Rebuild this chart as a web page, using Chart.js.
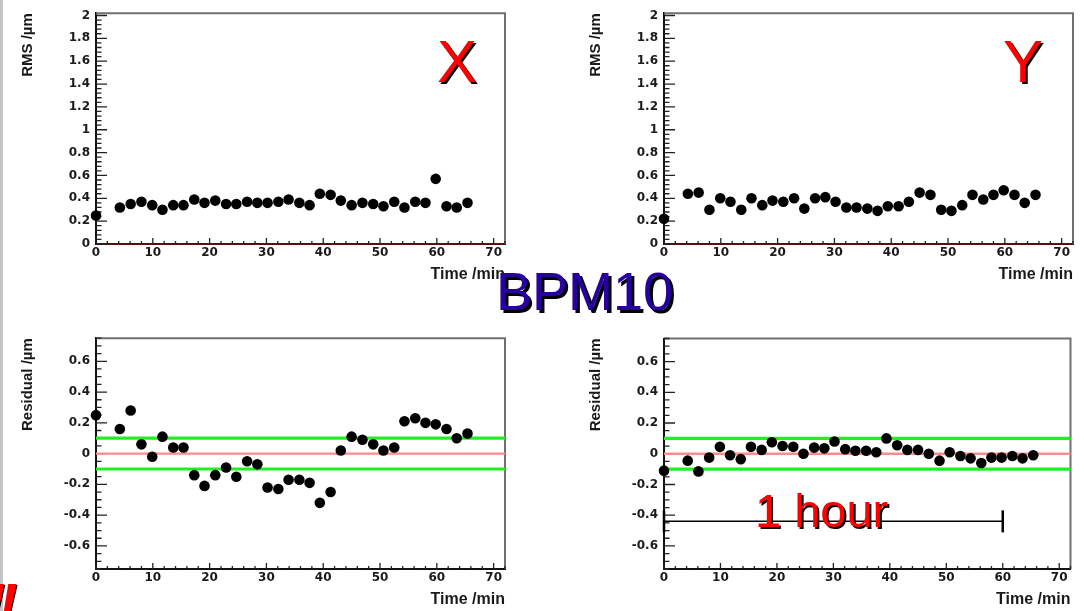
<!DOCTYPE html>
<html>
<head>
<meta charset="utf-8">
<script src="https://cdn.jsdelivr.net/npm/chart.js"></script>
<style>
  body { margin: 0; width: 1084px; height: 611px; overflow: hidden; background: #fff; position: relative; font-family: "Liberation Sans", Arial, sans-serif; }
  canvas { position: absolute; }
  .lbl { position: absolute; line-height: 1; white-space: nowrap; }
</style>
</head>
<body>
<div style="position:absolute;left:0;top:0;width:3px;height:611px;background:#c4c4c4"></div>
<canvas id="rmsXChart" width="516" height="286" style="left:0;top:0"></canvas>
<canvas id="rmsYChart" width="516" height="286" style="left:568px;top:0"></canvas>
<canvas id="resXChart" width="516" height="286" style="left:0;top:325px"></canvas>
<canvas id="resYChart" width="516" height="286" style="left:568px;top:325px"></canvas>

<div class="lbl" style="left:437px;top:32px;font-size:60px;color:#ff0000;text-shadow:2px 2px 0 #000">X</div>
<div class="lbl" style="left:1003px;top:32px;font-size:60px;color:#ff0000;text-shadow:2px 2px 0 #000">Y</div>
<div class="lbl" style="left:496px;top:264px;font-size:54px;color:#2800a0;text-shadow:3px 3px 0 #000">BPM10</div>
<div class="lbl" style="left:755px;top:487px;font-size:47px;color:#ff0000;text-shadow:2px 2px 0 #000">1 hour</div>
<div class="lbl" style="left:-14px;top:575px;font-size:58px;font-weight:bold;font-style:italic;letter-spacing:-7px;color:#ff0000;text-shadow:1px 1px 0 #000">!!</div>

<script>
// BPM10 stability over one hour: RMS and residual per plane

const timeMin = [0, 4.2, 6.1, 8.0, 9.9, 11.7, 13.6, 15.4, 17.3, 19.1, 21.0, 22.9, 24.7, 26.6, 28.4, 30.2, 32.1, 33.9,
  35.8, 37.6, 39.4, 41.3, 43.1, 45.0, 46.9, 48.8, 50.6, 52.5, 54.3, 56.2, 58.0, 59.8, 61.7, 63.5, 65.4];

const rmsX = [0.25, 0.32, 0.35, 0.37, 0.34, 0.30, 0.34, 0.34, 0.39, 0.36, 0.38, 0.35, 0.35, 0.37, 0.36, 0.36, 0.37, 0.39,
  0.36, 0.34, 0.44, 0.43, 0.38, 0.34, 0.36, 0.35, 0.33, 0.37, 0.32, 0.37, 0.36, 0.57, 0.33, 0.32, 0.36];

const rmsY = [0.22, 0.44, 0.45, 0.30, 0.40, 0.37, 0.30, 0.40, 0.34, 0.38, 0.37, 0.40, 0.31, 0.40, 0.41, 0.37, 0.32, 0.32,
  0.31, 0.29, 0.33, 0.33, 0.37, 0.45, 0.43, 0.30, 0.29, 0.34, 0.43, 0.39, 0.43, 0.47, 0.43, 0.36, 0.43];

const resX = [0.25, 0.16, 0.28, 0.06, -0.02, 0.11, 0.04, 0.04, -0.14, -0.21, -0.14, -0.09, -0.15, -0.05, -0.07, -0.22, -0.23, -0.17,
  -0.17, -0.19, -0.32, -0.25, 0.02, 0.11, 0.09, 0.06, 0.02, 0.04, 0.21, 0.23, 0.20, 0.19, 0.16, 0.10, 0.13];

const resY = [-0.11, -0.045, -0.115, -0.025, 0.045, -0.01, -0.035, 0.045, 0.025, 0.075, 0.05, 0.045, 0.0, 0.04, 0.035, 0.08, 0.03, 0.02,
  0.02, 0.01, 0.10, 0.055, 0.025, 0.025, 0.0, -0.045, 0.01, -0.015, -0.03, -0.06, -0.025, -0.025, -0.015, -0.03, -0.01];

const timeTicks = [0, 10, 20, 30, 40, 50, 60, 70];
const rmsTicks = [0, 0.2, 0.4, 0.6, 0.8, 1, 1.2, 1.4, 1.6, 1.8, 2];
const resTicks = [-0.6, -0.4, -0.2, 0, 0.2, 0.4, 0.6];

const timeRange = [0, 72];
const rmsRange = [0, 2.02];
const resRange = [-0.75, 0.75];

const bandLimits = [-0.1, 0.1];   // green tolerance lines
const zeroLevel = 0;              // red reference line
const hourSpan = [0, 60];         // "1 hour" bracket
const hourLevel = -0.44;

const TICK_FONT = 'DejaVu Sans, Verdana, sans-serif';
const TITLE_FONT = 'Liberation Sans, Arial, sans-serif';

// ROOT-like frame: grey top/right border and inward major/minor ticks
const rootFrame = {
  id: 'rootFrame',
  beforeDatasetsDraw(chart, args, opts) {
    const { ctx, chartArea: a, scales: { x, y } } = chart;
    ctx.save();
    ctx.strokeStyle = '#707070';
    ctx.lineWidth = 2;
    ctx.beginPath();
    ctx.moveTo(a.left, a.top);
    ctx.lineTo(a.right, a.top);
    ctx.lineTo(a.right, a.bottom);
    ctx.stroke();

    ctx.strokeStyle = '#222';
    ctx.lineWidth = 1.3;
    ctx.beginPath();
    const minor = (scale, step, fn) => {
      const n0 = Math.ceil(scale.min / step - 1e-6), n1 = Math.floor(scale.max / step + 1e-6);
      for (let i = n0; i <= n1; i++) fn(scale.getPixelForValue(i * step));
    };
    minor(y, opts.yMinor, py => { ctx.moveTo(a.left, py); ctx.lineTo(a.left + 5.5, py); });
    y.ticks.forEach(t => { const py = y.getPixelForValue(t.value); ctx.moveTo(a.left, py); ctx.lineTo(a.left + 11, py); });
    minor(x, opts.xMinor, px => { ctx.moveTo(px, a.bottom); ctx.lineTo(px, a.bottom - 3); });
    x.ticks.forEach(t => { const px = x.getPixelForValue(t.value); ctx.moveTo(px, a.bottom); ctx.lineTo(px, a.bottom - 6); });
    ctx.stroke();
    ctx.restore();
  }
};

function hLine(level, color, width) {
  return {
    type: 'line',
    data: [{ x: timeRange[0], y: level }, { x: timeRange[1], y: level }],
    borderColor: color,
    borderWidth: width,
    pointRadius: 0,
    showLine: true,
    clip: false,
    order: 2
  };
}

function renderPanel(id, values, yTicks, yRange, yTitle, extra, bottomColor) {
  const points = {
    type: 'scatter',
    data: timeMin.map((t, i) => ({ x: t, y: values[i] })),
    backgroundColor: '#000',
    borderColor: '#000',
    borderWidth: 0,
    pointRadius: 5.3,
    pointHoverRadius: 5.3,
    clip: false,
    order: 0
  };

  new Chart(document.getElementById(id), {
    type: 'scatter',
    data: { datasets: [points].concat(extra) },
    options: {
      responsive: false,
      animation: false,
      events: [],
      layout: { padding: { left: 0, top: 10, right: 11, bottom: 0 } },
      plugins: {
        legend: { display: false },
        tooltip: { enabled: false },
        rootFrame: { yMinor: yRange[1] > 1 ? 0.04 : 0.05, xMinor: 2 }
      },
      scales: {
        x: {
          type: 'linear',
          min: timeRange[0],
          max: timeRange[1],
          afterBuildTicks: s => { s.ticks = timeTicks.map(v => ({ value: v })); },
          afterFit: s => { s.height = 42; },
          grid: { display: false, drawTicks: false },
          border: { color: bottomColor, width: 2 },
          ticks: {
            autoSkip: false, maxRotation: 0, padding: 2, color: '#1a1a1a',
            font: { family: TICK_FONT, size: 12, weight: 'bold' },
            callback: v => String(v)
          },
          title: {
            display: true, text: 'Time /min', align: 'end', color: '#1a1a1a',
            font: { family: TITLE_FONT, size: 16, weight: 'bold' },
            padding: { top: 0, bottom: 2 }
          }
        },
        y: {
          type: 'linear',
          min: yRange[0],
          max: yRange[1],
          afterBuildTicks: s => { s.ticks = yTicks.map(v => ({ value: v })); },
          afterFit: s => { s.width = 96; },
          grid: { display: false, drawTicks: false },
          border: { color: '#111', width: 2 },
          ticks: {
            autoSkip: false, padding: 6, color: '#1a1a1a',
            font: { family: TICK_FONT, size: 12, weight: 'bold' },
            callback: v => String(v)
          },
          title: {
            display: true, text: yTitle, align: 'end', color: '#1a1a1a',
            font: { family: TITLE_FONT, size: 15, weight: 'bold' },
            padding: { top: 19, bottom: 0 }
          }
        }
      }
    },
    plugins: [rootFrame]
  });
}

const residualLines = [
  hLine(bandLimits[0], '#22ee22', 3.2),
  hLine(bandLimits[1], '#22ee22', 3.2),
  hLine(zeroLevel, '#ff8a8a', 2.4)
];

const hourBracket = {
  type: 'line',
  data: hourSpan.map(t => ({ x: t, y: hourLevel })),
  borderColor: '#000',
  borderWidth: 1.5,
  showLine: true,
  pointStyle: 'line',
  rotation: 90,
  pointRadius: 11,
  pointBorderWidth: 2.5,
  pointBorderColor: '#000',
  clip: false,
  order: 1
};

renderPanel('rmsXChart', rmsX, rmsTicks, rmsRange, 'RMS /µm', [], '#5a1010');
renderPanel('rmsYChart', rmsY, rmsTicks, rmsRange, 'RMS /µm', [], '#5a1010');
renderPanel('resXChart', resX, resTicks, resRange, 'Residual /µm', residualLines, '#111');
renderPanel('resYChart', resY, resTicks, resRange, 'Residual /µm', residualLines.concat([hourBracket]), '#111');
</script>
</body>
</html>
